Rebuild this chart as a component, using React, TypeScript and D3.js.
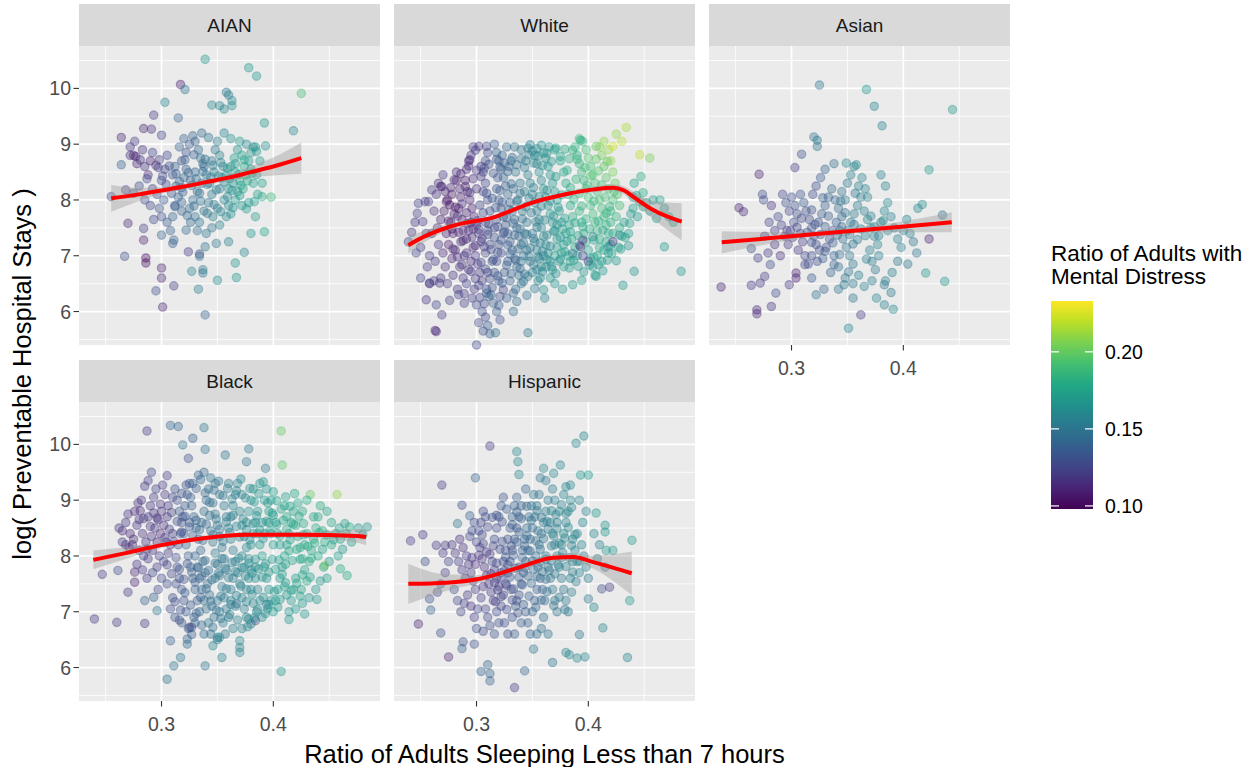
import React from 'react';
import * as d3 from 'd3';

// facets, in reading order
const facetNames = ['AIAN', 'White', 'Asian', 'Black', 'Hispanic'];

const xTicks = [0.3, 0.4];
const xMinorTicks = [0.25, 0.35, 0.45];
const yTicks = [6, 7, 8, 9, 10];
const yMinorTicks = [5.5, 6.5, 7.5, 8.5, 9.5, 10.5];
const colorTicks = [0.1, 0.15, 0.2];

// points: [sleep ratio * 1000, log(stays) * 100, mental distress * 1000]
const aianPoints = [
  [339,1052,170],[378,1037,170],[385,1022,168],[317,1007,110],[321,998,150],[425,991,190],[303,975,160],[358,993,150],[360,988,155],
  [345,970,160],[352,969,158],[356,963,160],[363,969,165],[363,978,162],[315,947,140],[293,952,120],[392,938,170],[418,924,160],
  [264,912,112],[284,928,112],[291,927,118],[300,916,125],[264,863,140],[272,895,118],[275,880,112],[277,878,110],[255,806,128],
  [270,758,112],[284,749,120],[284,728,110],[267,699,130],[286,696,100],[286,687,102],[300,678,110],[300,660,112],[295,637,130],
  [301,608,112],[311,646,120],[339,594,140],[333,640,155],[327,672,158],[337,675,150],[337,669,152],[334,699,150],[324,707,120],
  [350,656,165],[367,661,168],[366,687,170],[374,706,160],[380,740,170],[392,743,178],[384,770,172],[383,797,172],[390,806,180],
  [398,805,188],[393,897,165],[385,887,170],[382,895,168],[310,722,140],[311,728,138],[300,737,140],[322,746,145],[349,722,150],
  [360,725,155],[339,716,150],[334,703,130],
  [272,880,115],[278,865,112],[281,872,118],[285,860,120],[288,845,113],[290,870,110],[283,890,118],[276,905,120],[292,885,125],
  [295,862,118],[298,872,122],[287,838,128],[280,825,130],[292,820,124],[300,835,130],[296,810,128],[303,855,125],[305,880,128],
  [268,818,122],[275,812,125],[285,800,130],[290,790,126],[298,785,132],[302,800,135],[300,770,130],[293,765,128],[305,760,135],
  [308,745,138],[310,770,140],[312,790,138],
  [315,805,140],[318,822,138],[320,840,142],[322,855,135],[318,870,130],[322,885,132],[325,900,135],[328,915,140],[330,905,138],
  [333,890,142],[335,875,145],[338,860,140],[340,845,146],[336,830,148],[332,815,145],[328,800,142],[325,785,145],[330,770,148],
  [334,760,150],[338,780,146],[342,795,150],[345,810,152],[343,830,150],[347,850,155],[345,870,150],[348,890,152],[350,905,155],
  [352,880,156],[355,860,158],[354,840,160],[352,820,155],[356,800,158],[350,785,152],[346,770,155],[352,755,156],[358,770,160],
  [360,790,162],[340,740,150],[345,750,148],[332,745,145],[326,760,142],[318,780,140],[313,825,138],[310,845,132],[312,860,136],
  [316,895,140],[320,910,138],[336,920,142],[342,912,150],[330,850,140],[326,835,138],[337,865,145],
  [358,845,165],[362,860,170],[365,875,172],[368,890,168],[362,910,165],[370,905,170],[372,880,175],[366,850,175],[370,835,180],
  [374,860,178],[376,845,182],[378,870,170],[380,855,175],[373,820,178],[368,815,172],[364,830,168],[360,820,165],[382,830,175],
  [385,845,168],[380,885,165],[376,900,160],[384,895,165],[388,870,170],[366,800,170],[372,790,168],[362,775,165],[378,795,170],
  [386,810,172],[390,830,175],[356,920,160],
];
const aianCorePoints = [
  [297,858,120],[301,843,126],[304,828,128],[307,861,130],[309,812,133],[313,847,136],[316,833,138],[319,814,139],[321,872,136],
  [324,849,141],[327,826,142],[329,881,140],[331,838,145],[334,812,146],[337,851,147],[339,873,146],[341,828,149],[344,841,151],
  [346,862,153],[349,818,154],[351,843,157],[353,867,158],[356,832,161],[359,856,164],[361,838,166],[363,817,166],[366,865,170],
  [369,846,173],[371,826,174],[374,872,176],[377,834,178],[381,848,176],[312,788,137],[318,796,140],[323,772,143],[329,789,144],
  [335,798,147],[341,776,150],[347,792,153],[353,779,156],[359,806,160],[364,786,164],[370,808,170],[376,784,170],
];

const whitePoints = [
  [239,725,125],[242,742,120],[245,760,118],[247,776,122],[248,794,125],[252,761,120],[254,797,118],[257,797,122],[255,740,125],
  [250,715,120],[258,700,118],[256,680,122],[246,705,125],[260,818,120],[262,780,115],[260,740,112],[258,650,120],[250,660,125],
  [264,810,118],[266,830,115],[268,824,112],[270,845,118],[272,815,110],[274,800,105],[276,791,102],[278,810,108],[271,780,110],
  [268,765,112],[265,750,115],[273,740,108],[277,760,106],[280,775,110],[279,740,112],[275,720,108],[270,705,112],[266,720,118],
  [263,690,120],[272,680,115],[278,695,110],[281,710,112],[268,660,118],[274,650,120],[279,665,118],[262,655,122],[283,640,118],
  [276,620,120],[285,820,112],[282,850,115],[282,835,108],[286,805,110],[284,785,105],[287,765,110],[288,745,112],[286,725,115],
  [289,700,118],[285,680,115],[288,660,120],[284,630,125],[289,615,122],
  [258,651,120],[267,651,122],[255,621,118],[264,612,125],[269,594,120],[264,564,115],[263,566,110],
  [309,896,125],[294,872,115],[269,824,115],
  [291,855,115],[293,870,112],[295,880,118],[297,895,120],[299,889,122],[302,896,118],[290,835,110],[292,815,105],[294,800,108],
  [296,785,110],[298,770,112],[300,755,115],[302,740,118],[304,725,115],[295,760,110],[293,745,112],[291,730,115],[297,715,112],
  [299,700,118],[301,685,120],[303,670,118],[305,655,122],[295,690,115],[293,675,118],[291,650,125],[298,640,120],[303,625,125],
  [300,612,128],[305,600,130],[308,590,125],[310,575,135],[306,565,130],[312,560,138],[302,580,128],[300,540,125],[306,815,125],
  [308,830,128],[306,850,125],[308,870,130],[310,885,128],[304,860,120],[300,820,115],[310,800,128],[312,780,130],[308,760,125],
  [310,745,128],[312,720,130],[308,705,125],[314,690,132],[310,670,128],[309,640,130],[313,630,135],[315,615,138],
  [309,633,135],[311,627,140],[321,627,130],[318,600,138],[321,585,128],[333,600,142],[333,633,140],[324,639,125],[317,562,145],
  [346,562,152],[342,654,150],[346,663,155],[357,660,165],[360,639,165],[354,675,160],
  [316,900,135],[318,885,140],[320,870,138],[322,855,135],[324,840,140],[326,825,138],[328,810,142],[330,795,140],[332,780,145],
  [334,765,142],[336,750,145],[338,735,140],[340,720,145],[318,820,132],[320,800,135],[322,785,130],[324,770,135],[326,755,132],
  [328,740,138],[330,725,135],[332,710,140],[334,695,138],[336,680,142],[338,665,145],[340,690,148],[320,720,130],[322,705,128],
  [318,690,130],[316,670,132],[320,655,135],[325,670,138],[328,690,136],[330,655,140],[335,640,145],[340,650,148],[324,740,128],
  [316,750,125],[318,765,128],[319,840,135],[323,880,140],[327,895,142],[331,870,145],[335,850,148],[339,830,150],[343,815,152],
  [337,800,148],[341,780,150],[345,760,152],[343,740,150],[345,710,148],[342,700,150],[333,820,145],[329,860,140],[334,895,145],
  [340,890,150],[344,870,155],[346,845,152],[348,830,155],
  [350,888,158],[352,880,160],[354,865,158],[356,850,162],[358,835,160],[360,820,165],[362,805,162],[364,790,165],[366,775,168],
  [368,760,165],[370,745,168],[372,730,170],[350,810,155],[352,795,152],[354,780,155],[356,765,158],[358,750,160],[360,735,162],
  [362,720,160],[364,705,165],[366,690,168],[368,675,170],[350,740,150],[352,725,152],[354,710,155],[356,695,158],[358,680,160],
  [348,690,152],[350,670,155],[355,655,160],[360,700,160],[362,680,165],[366,660,168],[370,700,170],[372,715,172],[374,690,170],
  [376,705,172],[378,720,175],[380,740,175],[376,760,172],[374,780,170],[372,800,172],[370,815,170],[368,830,168],[366,845,165],
  [364,860,168],[362,875,165],[360,884,168],[365,895,170],[370,890,175],[375,870,175],[378,850,178],[380,830,178],[382,810,180],
  [384,790,178],[386,770,180],[383,755,178],[385,730,180],[388,715,178],[382,700,176],[378,680,172],[384,690,175],[390,700,178],
  [358,898,165],[354,892,162],[348,899,158],[346,893,155],
  [388,895,185],[390,880,182],[392,865,185],[394,850,188],[396,835,185],[398,820,188],[400,805,190],[402,790,188],[404,775,190],
  [406,760,188],[408,745,185],[410,730,182],[392,910,190],[395,905,188],[398,890,192],[400,875,195],[402,860,192],[404,845,195],
  [406,830,192],[408,815,190],[410,800,192],[412,785,190],[414,770,188],[416,755,185],[418,740,180],[392,780,185],[394,760,182],
  [396,740,180],[398,725,178],[400,710,175],[402,695,172],[404,680,170],[406,665,172],[408,700,175],[410,715,178],[412,690,172],
  [414,710,175],[416,725,178],[418,705,175],[420,720,175],[422,740,178],[420,760,182],[420,780,185],[422,800,190],[418,820,195],
  [416,840,198],[414,860,200],[412,880,205],[410,895,208],[414,905,210],[418,890,212],[420,870,210],[422,850,205],[424,830,200],
  [426,810,195],[428,790,190],[425,770,185],[428,750,180],[430,735,178],[427,715,172],
  [434,930,215],[446,881,220],[455,875,205],[393,907,180],[407,896,200],[422,896,222],[430,905,218],[425,918,210],
  [432,760,175],[436,740,172],[438,775,170],[441,830,175],[447,842,180],[449,788,178],[440,805,172],[444,770,170],[452,795,175],
  [455,780,172],[458,800,170],[461,767,172],[464,800,175],[468,785,170],[472,770,168],[476,760,170],[468,716,170],[483,672,168],
  [441,672,165],[431,647,168],[407,663,170],[436,718,165],[428,737,165],[418,716,165],[404,734,160],[392,719,155],[386,704,150],
  [395,700,125],[400,690,120],[393,716,115],[422,725,120],[395,728,118],
];
const whiteCorePoints = [
  [283,771,115],[287,793,118],[291,777,112],[294,813,120],[297,748,116],[301,763,122],[303,791,125],[306,777,128],[309,812,130],
  [311,757,127],[314,803,133],[317,786,135],[319,752,131],[321,817,138],[323,796,134],[327,768,139],[329,783,141],[331,829,143],
  [333,758,140],[336,797,146],[339,812,148],[341,766,145],[344,788,150],[347,803,152],[349,777,149],[351,822,155],[353,761,151],
  [356,806,157],[358,789,155],[361,764,158],[363,817,162],[366,798,163],[369,771,165],[371,842,170],[373,787,168],[376,809,172],
  [379,767,170],[381,853,178],[384,822,180],[387,801,182],[389,837,185],[392,812,186],[394,789,183],[397,858,190],[399,826,189],
  [402,843,193],[405,798,188],[407,873,198],[409,852,195],[412,827,192],[415,805,190],[417,869,200],[419,788,186],[423,815,192],
  [284,742,112],[288,727,110],[292,758,113],[296,733,115],[299,718,117],[302,747,120],[305,731,124],[307,716,122],[310,738,126],
  [313,711,128],[316,733,130],[319,706,132],[322,728,134],[325,743,135],[328,719,137],[330,703,139],[334,737,141],[337,712,143],
  [339,748,144],[342,723,147],[345,738,149],[348,714,150],[351,731,152],[354,751,153],[357,723,155],[359,708,156],[363,737,158],
  [366,717,160],[369,744,164],[372,756,166],[375,733,168],[377,748,170],[381,726,171],[384,743,173],[388,759,176],[391,736,175],
  [395,752,178],[398,766,180],[401,748,178],[405,728,174],[409,762,180],[413,746,177],[416,776,183],[286,847,110],[290,824,113],
  [293,861,114],[297,838,117],[300,853,119],[304,842,121],[307,857,126],[311,864,129],[315,848,131],[318,873,134],[321,859,136],
  [325,866,138],[328,851,140],[332,876,143],[336,863,146],[340,874,149],[343,858,151],[347,881,154],[351,866,157],[355,879,160],
  [359,862,162],[363,884,166],[367,869,168],[371,893,172],[375,878,176],[379,891,179],[383,874,181],[386,889,184],[390,873,185],
  [275,762,108],[278,748,104],[281,787,108],[273,797,110],[277,822,112],[280,836,114],[279,712,112],[283,698,115],[287,684,118],
  [291,705,117],[295,672,119],[299,659,121],[304,688,124],[308,676,126],[312,659,129],[315,693,131],[319,664,133],[323,651,134],
  [327,683,136],[331,668,138],[335,692,140],[339,677,143],[343,667,146],[347,699,149],[351,684,151],[355,698,154],[359,671,156],
  [363,693,159],[367,681,162],[371,668,164],[375,694,166],[379,707,170],[383,678,168],[387,692,170],[391,681,170],[396,671,168],
  [401,683,170],[405,697,172],[409,684,170],[413,673,168],[417,692,170],[421,704,172],[425,691,170],[429,712,172],[433,733,172],
  [437,758,175],[440,785,174],[443,808,177],[446,797,176],[449,813,178],[289,632,120],[296,624,122],[302,647,125],[307,614,128],
  [314,643,132],[320,611,134],[327,624,137],[336,618,142],[345,629,148],[352,641,153],[361,624,158],[370,650,165],[377,640,168],
  [386,648,170],[394,656,172],
];

const asianPoints = [
  [325,1006,150],[367,998,170],[374,968,160],[381,933,160],[444,962,170],[320,913,150],[323,907,152],[323,896,148],[309,882,130],
  [303,858,120],[271,846,112],[274,810,130],[275,800,128],[253,786,112],[257,779,115],[423,854,170],[413,785,160],[417,792,162],
  [435,773,150],[423,730,112],[420,669,170],[437,654,170],[237,644,112],[264,647,120],[272,651,122],[269,603,110],[269,596,112],
  [282,609,120],[286,633,130],[298,648,120],[304,669,112],[304,660,110],[322,630,150],[351,570,160],[362,594,120],[376,624,160],
  [383,612,158],[391,604,162],[383,648,150],[389,634,152],[355,624,150],[347,648,152],[264,713,130],[281,684,130],[276,663,120],
  [270,696,122],[349,866,160],[358,863,162],
  [280,760,125],[285,745,120],[288,770,128],[291,755,125],[294,735,118],[297,720,120],[299,745,122],[302,760,128],[305,775,130],
  [303,790,132],[300,805,128],[298,780,125],[295,795,130],[308,810,132],[311,795,135],[313,780,130],[316,765,128],[318,750,132],
  [320,735,130],[322,720,128],[308,740,125],[310,725,122],[306,710,120],[312,700,125],[315,685,128],[318,700,130],[325,710,132],
  [328,695,135],[331,715,130],[334,730,128],[337,745,132],[324,760,130],[327,775,135],[330,790,138],[333,805,140],[336,820,142],
  [339,800,140],[342,785,145],[345,770,142],[340,760,138],[343,745,140],[346,730,145],[349,715,148],[352,700,150],[355,685,152],
  [350,745,148],[353,760,150],[356,775,152],[359,790,155],[362,805,155],[348,800,150],[345,815,148],[350,830,152],[353,845,155],
  [356,860,158],[360,825,158],[363,840,160],[366,820,160],[368,805,158],[365,780,155],[368,765,158],[371,750,160],[374,735,158],
  [377,720,160],[370,710,155],[372,690,152],[375,675,150],[378,700,155],[380,760,158],[383,780,160],[386,795,162],[389,770,158],
  [392,750,160],[395,730,158],[398,715,155],[400,745,155],[403,765,158],[406,740,155],[409,725,150],[412,705,148],[384,825,160],
  [380,845,158],[326,840,135],[322,825,130],[319,810,128],[330,855,140],[338,865,145],[323,690,130],[335,670,140],[342,680,145],
  [348,660,150],[355,650,152],[360,665,155],[365,645,158],[338,700,140],[290,700,115],[285,720,118],[292,810,125],[282,790,118],
  [276,735,115],[279,705,120],[318,660,135],[329,640,140],[384,655,155],[390,670,158],[395,690,152],[404,685,150],[342,640,148],
  [372,655,155],
];
const asianCorePoints = [
  [296,745,122],[301,733,124],[305,751,126],[309,767,128],[314,742,130],[318,724,130],[321,756,132],[326,738,133],[330,752,135],
  [333,771,137],[337,723,138],[341,737,140],[345,752,143],[348,777,146],[352,738,148],[356,756,150],[359,729,151],[362,748,152],
  [366,736,154],[371,771,156],[374,752,157],[378,736,155],[382,763,158],[386,745,156],[330,708,134],[343,702,142],[355,721,150],
  [367,694,154],[318,782,132],[328,804,136],[344,798,146],[357,812,152],[312,684,127],[338,684,140],[351,671,148],
];

const blackPoints = [
  [240,687,120],[260,681,120],[285,679,118],[247,767,120],[261,774,128],[270,735,120],[276,771,112],[276,753,110],[287,1024,120],
  [308,1034,140],[315,1032,140],[328,1011,140],[338,1030,150],[319,999,150],[324,975,130],[339,991,150],[357,981,150],[378,992,150],
  [376,969,150],[393,957,150],[407,1024,200],[408,963,198],[433,910,200],[457,910,210],[446,783,210],[460,777,180],[466,765,180],
  [484,852,170],[468,852,180],[428,696,170],[407,593,170],[305,579,150],[311,603,150],[317,618,150],[339,603,150],[354,618,160],
  [323,651,140],[323,642,142],[308,648,140],[346,639,160],[350,654,160],[352,654,162],[370,636,160],[370,627,158],[370,648,160],
  [378,687,160],[380,678,158],[384,684,130],[394,713,150],[367,714,140],[325,672,120],[327,672,122],[329,690,140],[296,702,150],
  [285,720,140],[293,726,140],
  [262,850,118],[265,845,115],[268,860,120],[270,875,118],[272,840,112],[275,830,115],[278,855,118],[280,865,120],[283,840,115],
  [286,825,118],[288,870,120],[290,890,118],[293,905,120],[295,920,125],[288,935,122],[291,950,125],[285,925,120],[282,900,118],
  [279,895,116],[276,880,114],[274,820,115],[271,815,112],[268,820,118],[265,825,120],[280,810,118],[284,800,122],[288,795,120],
  [292,810,115],[296,825,112],[299,840,110],[302,855,115],[305,870,118],[300,880,115],[297,865,118],[294,850,120],[291,835,118],
  [298,800,122],[302,790,125],[306,805,120],[308,820,118],[310,840,120],[304,825,118],[306,890,122],[310,905,125],[303,910,120],
  [296,780,122],[292,770,125],[287,760,122],[283,775,120],[278,785,118],[300,760,128],[305,750,130],[297,740,128],
  [312,920,130],[314,900,132],[316,880,135],[318,860,133],[320,840,135],[322,820,138],[324,800,136],[326,780,140],[328,760,138],
  [330,740,140],[332,720,138],[334,700,142],[314,780,132],[316,760,130],[318,740,135],[320,720,132],[322,700,135],[315,820,128],
  [317,840,130],[319,870,132],[321,890,135],[323,910,138],[325,930,135],[327,890,138],[329,870,140],[331,850,142],[333,830,140],
  [335,810,143],[337,790,145],[339,770,142],[341,750,145],[343,730,148],[345,710,145],[347,690,148],[330,800,140],[332,780,142],
  [334,760,140],[336,740,143],[338,720,145],[340,705,147],[342,680,150],[336,860,142],[338,880,145],[340,900,143],[342,920,145],
  [344,940,148],[346,895,145],[348,875,148],[350,855,150],[352,835,148],[354,815,150],[356,795,152],[358,775,150],[344,845,146],
  [346,825,148],[348,805,150],[350,785,148],[352,765,150],[354,745,152],[356,725,155],[358,705,152],[360,690,155],[350,720,150],
  [352,700,152],[355,680,155],[348,760,150],[328,930,138],[333,945,140],[338,950,143],[348,930,148],[352,910,150],[356,890,152],
  [358,870,150],[360,850,152],[362,830,155],[364,810,153],[366,790,155],[368,770,158],[370,750,155],[362,870,155],[364,890,158],
  [366,910,155],[360,930,152],[368,930,158],[372,910,160],[370,880,158],[372,855,160],[374,835,158],[376,815,160],[378,795,162],
  [380,775,160],[372,725,158],[374,705,155],[376,690,158],[366,710,155],[362,740,155],[364,760,153],[325,860,135],[313,750,128],
  [310,725,130],[308,705,128],[312,690,132],[318,680,135],[324,670,138],[330,680,140],[338,660,145],[344,660,148],[350,650,150],
  [357,660,152],[364,670,155],[372,670,158],[362,720,155],
  [378,880,165],[380,900,168],[382,920,165],[384,860,168],[386,840,170],[388,820,168],[390,800,170],[392,780,168],[394,760,165],
  [396,740,168],[398,720,165],[384,760,163],[386,740,160],[388,720,162],[380,740,160],[382,715,158],[385,700,160],[390,690,162],
  [395,705,165],[400,700,168],[402,720,170],[404,740,172],[406,760,170],[408,780,172],[410,800,175],[412,820,172],[414,840,175],
  [416,860,178],[418,880,175],[396,880,172],[398,900,170],[400,915,172],[392,900,168],[388,930,165],[394,920,168],[402,860,172],
  [404,840,175],[406,820,172],[400,820,170],[398,840,168],[396,860,170],[392,840,168],[390,860,165],[386,880,168],[410,890,175],
  [412,870,178],[420,855,180],[422,835,178],[424,815,180],[426,795,178],[428,775,175],[420,760,175],[418,740,172],[416,720,170],
  [414,700,168],[410,745,172],[425,740,175],[430,755,178],[432,790,180],[434,810,178],[436,830,180],[438,850,182],[440,870,178],
  [442,890,180],[436,870,175],[430,840,178],[428,820,176],[444,845,178],[446,825,180],[440,800,178],[445,780,175],[448,760,172],
  [442,755,170],[438,740,168],[432,725,168],[426,715,170],[420,705,168],[412,730,170],[452,820,178],[456,840,175],[452,860,178],
  [460,830,175],[465,840,172],[470,825,170],[476,850,168],[480,838,170],[458,800,172],[450,790,170],[462,812,170],[464,858,172],
  [448,880,175],[430,900,180],[426,880,178],[422,895,176],[384,780,162],[378,760,160],[376,740,158],[374,780,162],[372,800,160],
  [380,820,163],[382,840,165],[376,860,162],
];
const blackCorePoints = [
  [303,833,120],[307,848,123],[311,826,126],[314,862,128],[318,843,131],[321,871,133],[325,852,135],[328,836,137],[331,864,139],
  [334,847,141],[337,828,142],[340,857,144],[343,873,146],[346,838,147],[349,866,149],[352,848,150],[355,826,151],[358,861,153],
  [361,842,154],[364,873,156],[367,853,157],[370,834,158],[373,866,160],[376,847,161],[379,829,162],[382,858,164],[385,872,166],
  [388,846,167],[391,831,168],[394,862,170],[397,845,171],[400,873,173],[403,856,174],[406,836,175],[409,864,176],[412,848,177],
  [415,829,176],[418,857,178],[305,784,124],[309,768,127],[313,797,129],[316,776,131],[320,758,132],[323,786,134],[327,771,136],
  [330,753,138],[333,779,140],[336,764,141],[339,792,143],[342,774,145],[345,757,146],[348,787,148],[351,769,150],[354,795,151],
  [357,778,152],[360,761,153],[363,788,155],[366,772,156],[369,796,158],[372,779,159],[375,764,160],[378,787,162],[381,769,163],
  [384,794,165],[387,777,166],[390,762,165],[393,786,168],[396,771,169],[399,794,170],[402,776,171],[405,793,173],[408,767,172],
  [411,785,174],[414,809,176],[417,792,177],[421,812,178],[424,794,176],[427,838,179],[431,817,180],[434,796,178],[437,823,181],
  [441,842,180],[318,912,130],[322,927,133],[326,905,135],[331,921,138],[335,937,141],[339,913,143],[343,896,145],[347,918,147],
  [351,934,149],[355,908,151],[359,921,153],[363,902,155],[367,917,157],[371,938,159],[375,904,161],[379,921,164],[383,897,165],
  [387,912,167],[391,933,168],[395,895,170],[399,877,171],[403,899,172],[407,884,174],[411,906,175],[415,889,176],[419,912,178],
  [423,871,177],[427,858,178],[312,718,128],[317,703,130],[321,734,133],[326,712,135],[331,697,137],[335,726,139],[340,741,142],
  [344,719,145],[349,703,148],[353,728,150],[358,741,152],[362,713,154],[367,729,156],[371,746,158],[376,718,160],[381,731,162],
  [386,704,161],[391,726,164],[396,713,166],[401,736,168],[406,722,170],[411,752,171],[416,738,172],[421,751,174],[426,766,176],
  [316,685,132],[327,659,137],[336,676,141],[346,672,147],[353,688,150],[361,695,153],[368,685,157],[377,673,160],[383,689,162],
  [393,697,164],[404,708,168],[414,686,170],[424,728,172],[433,762,174],[439,722,170],[444,812,176],[448,838,177],[454,829,175],
  [459,850,174],[296,868,115],[299,893,117],[301,927,119],[305,944,122],[309,878,124],[287,812,118],[290,853,116],[293,877,119],
  [284,867,117],[281,881,115],
];

const hispanicPoints = [
  [396,1015,160],[389,1002,160],[312,997,120],[336,987,160],[337,969,160],[338,946,160],[299,940,140],[269,927,120],[287,891,130],
  [294,872,140],[283,858,150],[241,827,120],[252,838,120],[264,819,120],[272,819,120],[254,790,130],[258,723,130],[259,703,140],
  [248,678,110],[268,662,130],[275,619,110],[288,646,130],[287,634,140],[298,642,130],[304,593,140],[310,605,140],[312,589,140],
  [312,576,140],[334,564,120],[343,594,140],[351,633,150],[368,609,150],[380,627,160],[383,623,160],[390,617,160],[397,619,160],
  [392,659,150],[413,671,160],[435,618,160],[437,720,170],[439,828,170],[422,810,170],[416,810,170],[419,744,120],[412,741,130],
  [405,708,160],[400,723,150],[415,855,170],[415,843,170],[407,877,170],[393,945,170],[400,945,170],[360,957,160],[369,948,160],
  [375,963,160],[380,924,160],[384,927,160],
  [285,830,118],[288,815,115],[291,800,120],[293,785,118],[295,770,122],[297,755,120],[299,740,118],[290,760,115],[287,775,120],
  [284,790,122],[281,805,118],[278,820,120],[275,790,125],[272,770,122],[270,805,120],[268,750,125],[265,735,128],[280,740,130],
  [283,720,128],[286,700,125],[289,715,122],[292,730,120],[295,710,118],[298,690,122],[301,705,125],[300,825,125],[302,845,128],
  [304,860,125],[306,880,128],[308,870,130],[298,860,128],[296,845,130],[294,835,128],[303,815,120],[305,795,118],[307,780,115],
  [309,765,112],[311,750,118],[313,735,120],[315,720,122],[306,745,118],[304,725,122],[308,705,125],[310,690,128],[312,675,130],
  [306,665,128],[300,670,130],[316,660,132],[320,680,130],[318,700,128],[322,710,125],[324,730,122],[326,750,125],[328,770,128],
  [330,790,130],[332,810,132],[334,830,135],[336,850,133],[338,870,135],[340,890,138],[316,830,130],[318,850,128],[320,870,132],
  [322,890,135],[324,905,130],[314,790,125],[316,775,122],[318,760,120],[320,745,118],[322,770,125],[324,790,128],[326,810,130],
  [328,830,132],[330,850,135],[332,870,138],[334,890,140],[336,905,138],[325,680,128],[328,660,130],[332,690,132],[335,710,135],
  [338,730,130],[340,750,132],[342,770,135],[344,790,138],[346,810,140],[348,830,142],[350,850,145],[352,870,148],[354,890,150],
  [356,910,148],[341,810,138],[343,830,140],[345,850,142],[347,870,145],[349,890,148],[351,910,150],[353,800,145],[355,780,142],
  [357,760,140],[359,740,138],[361,720,142],[344,700,135],[346,680,138],[348,660,140],[350,700,142],[352,720,140],[354,740,138],
  [356,820,148],[358,840,150],[360,860,152],[362,880,155],[364,900,152],[366,860,155],[368,840,158],[370,820,155],[372,800,158],
  [374,780,155],[376,760,152],[378,740,150],[362,800,150],[364,780,148],[366,760,150],[368,740,152],[370,720,150],[372,700,148],
  [360,690,145],[358,670,145],[364,660,148],[376,820,158],[378,840,160],[380,860,158],[382,880,160],[384,900,158],[374,880,158],
  [370,900,155],[368,920,155],[372,860,156],[386,830,160],[388,810,158],[390,790,160],[392,770,158],[386,790,155],[384,760,155],
  [380,720,152],[382,700,150],[390,840,158],[394,820,160],[396,800,158],[398,780,155],[400,760,152],[395,860,160],[398,880,158],
  [336,720,130],[331,740,128],[338,780,132],[340,680,138],[334,660,135],[354,660,145],[344,920,140],[357,940,150],[362,935,152],
  [378,910,158],[392,900,158],[405,840,160],[410,820,158],[408,795,155],[415,780,150],
];
const hispanicCorePoints = [
  [312,803,122],[315,818,125],[318,787,127],[321,812,129],[323,826,131],[326,798,132],[328,784,130],[331,818,133],[333,801,134],
  [336,825,137],[338,843,139],[341,797,138],[343,818,140],[345,836,142],[348,809,143],[350,791,141],[353,827,145],[355,845,147],
  [357,812,146],[360,831,149],[362,794,148],[364,848,152],[367,818,152],[369,836,154],[372,849,156],[374,823,156],[377,806,155],
  [379,832,158],[382,851,159],[385,819,158],[388,838,160],[313,768,120],[316,752,122],[319,739,124],[322,761,126],[325,774,127],
  [327,747,128],[330,762,130],[333,741,132],[335,778,134],[338,762,135],[341,748,136],[343,779,138],[346,764,140],[349,751,141],
  [351,776,143],[354,763,144],[357,789,146],[359,772,147],[362,758,148],[365,774,150],[367,791,151],[370,768,152],[373,784,154],
  [376,797,156],[380,781,156],[383,797,157],[386,771,155],[389,754,153],[392,791,157],[318,873,130],[323,861,132],[327,884,135],
  [332,856,136],[336,879,139],[340,867,140],[345,889,143],[349,864,146],[354,881,148],[358,869,150],[363,862,152],[367,881,155],
  [371,874,156],[376,892,158],[380,876,159],[385,887,160],[317,718,124],[322,727,126],[327,704,128],[332,721,130],[337,698,132],
  [342,713,134],[347,728,138],[353,708,140],[358,721,142],[363,736,146],[369,711,148],[374,726,150],[379,704,150],[385,735,153],
  [309,807,121],[306,822,124],[302,801,118],[299,785,116],[296,797,118],[305,838,126],[310,852,128],[314,869,130],
];

// loess fits, with the half-width of the grey band
const aianFitX = [0.255, 0.28, 0.3, 0.32, 0.34, 0.36, 0.38, 0.4, 0.425];
const aianFitY = [8.03, 8.1, 8.17, 8.24, 8.32, 8.4, 8.5, 8.6, 8.75];
const aianFitSe = [0.24, 0.12, 0.06, 0.05, 0.05, 0.06, 0.1, 0.16, 0.28];

const whiteFitX = [0.239, 0.255, 0.276, 0.295, 0.312, 0.33, 0.348, 0.366, 0.384, 0.405, 0.4224, 0.432, 0.44, 0.458, 0.4835];
const whiteFitY = [7.19, 7.36, 7.52, 7.61, 7.67, 7.8, 7.94, 8.04, 8.12, 8.19, 8.22, 8.17, 8.06, 7.82, 7.61];
const whiteFitSe = [0.15, 0.1, 0.06, 0.05, 0.04, 0.04, 0.04, 0.04, 0.04, 0.05, 0.06, 0.07, 0.09, 0.16, 0.33];

const asianFitX = [0.2376, 0.3, 0.34, 0.38, 0.4433];
const asianFitY = [7.24, 7.35, 7.42, 7.49, 7.6];
const asianFitSe = [0.2, 0.07, 0.05, 0.07, 0.18];

const blackFitX = [0.239, 0.27, 0.2987, 0.334, 0.376, 0.424, 0.4746, 0.483];
const blackFitY = [7.93, 8.06, 8.19, 8.31, 8.38, 8.38, 8.36, 8.34];
const blackFitSe = [0.17, 0.1, 0.05, 0.04, 0.04, 0.05, 0.12, 0.15];

const hispanicFitX = [0.239, 0.273, 0.303, 0.339, 0.3687, 0.3866, 0.4045, 0.4388];
const hispanicFitY = [7.5, 7.52, 7.59, 7.8, 7.97, 7.98, 7.89, 7.69];
const hispanicFitSe = [0.36, 0.15, 0.07, 0.06, 0.06, 0.07, 0.12, 0.39];

const facets = [
  { name: facetNames[0], col: 0, row: 0, pts: aianPoints.concat(aianCorePoints), fx: aianFitX, fy: aianFitY, se: aianFitSe },
  { name: facetNames[1], col: 1, row: 0, pts: whitePoints.concat(whiteCorePoints), fx: whiteFitX, fy: whiteFitY, se: whiteFitSe },
  { name: facetNames[2], col: 2, row: 0, pts: asianPoints.concat(asianCorePoints), fx: asianFitX, fy: asianFitY, se: asianFitSe },
  { name: facetNames[3], col: 0, row: 1, pts: blackPoints.concat(blackCorePoints), fx: blackFitX, fy: blackFitY, se: blackFitSe },
  { name: facetNames[4], col: 1, row: 1, pts: hispanicPoints.concat(hispanicCorePoints), fx: hispanicFitX, fy: hispanicFitY, se: hispanicFitSe },
];

const font = '"Liberation Sans", Arial, sans-serif';
const panelLeft = [79, 394, 709];
const rowTop = [4, 360];
const panelW = 301;
const stripH = 42;
const plotH = 299;

const colorScale = d3.scaleSequential(d3.interpolateViridis).domain([0.098, 0.233]);

const App = () => {
  const barTop = 301;
  const barBottom = 509;
  const barX = 1051;
  const barW = 42;
  const barScale = d3.scaleLinear().domain(colorScale.domain()).range([barBottom, barTop]);
  const stops = d3.range(0, 1.0001, 0.1);

  return (
    <svg width={1256} height={767} style={{ position: 'absolute', left: 0, top: 0, background: '#fff' }} fontFamily={font}>
      <defs>
        <linearGradient id="viridisBar" x1="0" y1="1" x2="0" y2="0">
          {stops.map(t => (
            <stop key={t} offset={t} stopColor={d3.interpolateViridis(t)} />
          ))}
        </linearGradient>
      </defs>

      {facets.map(f => {
        const left = panelLeft[f.col];
        const top = rowTop[f.row] + stripH;
        const x = d3.scaleLinear().domain([0.2262, 0.4954]).range([left, left + panelW]);
        const y = d3.scaleLinear().domain([5.4, 10.76]).range([top + plotH, top]);
        const area = d3
          .area<number>()
          .x((_, i) => x(f.fx[i]))
          .y0((_, i) => y(f.fy[i] - f.se[i]))
          .y1((_, i) => y(f.fy[i] + f.se[i]))
          .curve(d3.curveMonotoneX);
        const line = d3
          .line<number>()
          .x((_, i) => x(f.fx[i]))
          .y((_, i) => y(f.fy[i]))
          .curve(d3.curveMonotoneX);
        const showX = f.row === 1 || f.col === 2;
        return (
          <g key={f.name}>
            <rect x={left} y={rowTop[f.row]} width={panelW} height={stripH} fill="#D9D9D9" />
            <text x={left + panelW / 2} y={rowTop[f.row] + stripH / 2 + 7} textAnchor="middle" fontSize={19} fill="#1A1A1A">
              {f.name}
            </text>
            <rect x={left} y={top} width={panelW} height={plotH} fill="#EBEBEB" />
            {xMinorTicks.map(t => (
              <line key={'xm' + t} x1={x(t)} x2={x(t)} y1={top} y2={top + plotH} stroke="#fff" strokeWidth={0.8} />
            ))}
            {yMinorTicks.map(t => (
              <line key={'ym' + t} x1={left} x2={left + panelW} y1={y(t)} y2={y(t)} stroke="#fff" strokeWidth={0.8} />
            ))}
            {xTicks.map(t => (
              <line key={'x' + t} x1={x(t)} x2={x(t)} y1={top} y2={top + plotH} stroke="#fff" strokeWidth={1.7} />
            ))}
            {yTicks.map(t => (
              <line key={'y' + t} x1={left} x2={left + panelW} y1={y(t)} y2={y(t)} stroke="#fff" strokeWidth={1.7} />
            ))}
            {f.pts.map((p, i) => {
              const c = colorScale(p[2] / 1000);
              return (
                <circle
                  key={i}
                  cx={x(p[0] / 1000)}
                  cy={y(p[1] / 100)}
                  r={4.2}
                  fill={c}
                  fillOpacity={0.37}
                  stroke={c}
                  strokeOpacity={0.37}
                  strokeWidth={1.2}
                />
              );
            })}
            <path d={area(f.fx) || ''} fill="#999999" fillOpacity={0.4} />
            <path d={line(f.fx) || ''} fill="none" stroke="#FF0000" strokeWidth={4} />
            {f.col === 0 &&
              yTicks.map(t => (
                <g key={'yl' + t}>
                  <line x1={left - 5.5} x2={left} y1={y(t)} y2={y(t)} stroke="#333" strokeWidth={1.1} />
                  <text x={left - 8} y={y(t) + 7} textAnchor="end" fontSize={19.5} fill="#4D4D4D">
                    {t}
                  </text>
                </g>
              ))}
            {showX &&
              xTicks.map(t => (
                <g key={'xl' + t}>
                  <line x1={x(t)} x2={x(t)} y1={top + plotH} y2={top + plotH + 5.5} stroke="#333" strokeWidth={1.1} />
                  <text x={x(t)} y={top + plotH + 30} textAnchor="middle" fontSize={19.5} fill="#4D4D4D">
                    {d3.format('.1f')(t)}
                  </text>
                </g>
              ))}
          </g>
        );
      })}

      <text x={544.5} y={763} textAnchor="middle" fontSize={25.5} fill="#000">
        Ratio of Adults Sleeping Less than 7 hours
      </text>
      <text transform="translate(31,374) rotate(-90)" textAnchor="middle" fontSize={25.5} fill="#000">
        log( Preventable Hospital Stays )
      </text>

      <text x={1051} y={261} fontSize={22.5} fill="#000">Ratio of Adults with</text>
      <text x={1051} y={284} fontSize={22.5} fill="#000">Mental Distress</text>
      <rect x={barX} y={barTop} width={barW} height={barBottom - barTop} fill="url(#viridisBar)" />
      {colorTicks.map(t => (
        <g key={'c' + t}>
          <line x1={barX} x2={barX + 8} y1={barScale(t)} y2={barScale(t)} stroke="#fff" strokeWidth={1.2} />
          <line x1={barX + barW - 8} x2={barX + barW} y1={barScale(t)} y2={barScale(t)} stroke="#fff" strokeWidth={1.2} />
          <text x={1105} y={barScale(t) + 7} fontSize={19.5} fill="#000">
            {d3.format('.2f')(t)}
          </text>
        </g>
      ))}
    </svg>
  );
};

export default App;
